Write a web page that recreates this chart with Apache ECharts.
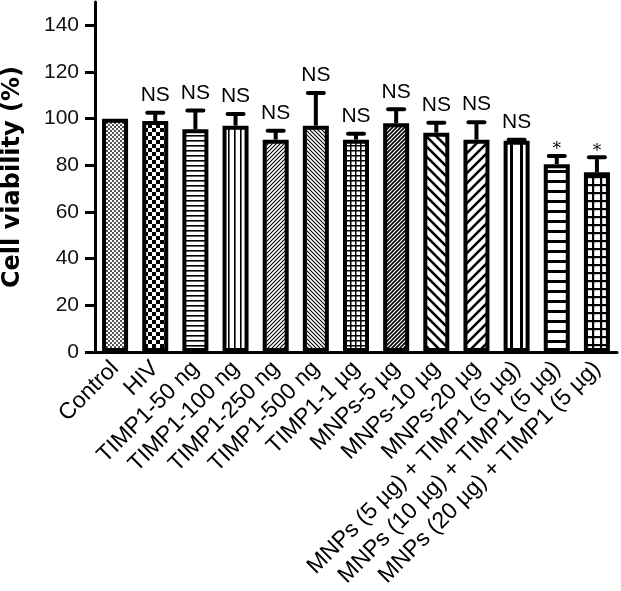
<!DOCTYPE html>
<html>
<head>
<meta charset="utf-8">
<script src="https://cdn.jsdelivr.net/npm/echarts@6/dist/echarts.min.js"></script>
<style>
  html, body { margin: 0; padding: 0; background: #fff; }
  #chart { width: 621px; height: 591px; }
</style>
</head>
<body>
<div id="chart"></div>
<script>
// groups on the x axis
var groups = ['Control', 'HIV', 'TIMP1-50 ng', 'TIMP1-100 ng', 'TIMP1-250 ng', 'TIMP1-500 ng',
  'TIMP1-1 µg', 'MNPs-5 µg', 'MNPs-10 µg', 'MNPs-20 µg',
  'MNPs (5 µg) + TIMP1 (5 µg)', 'MNPs (10 µg) + TIMP1 (5 µg)', 'MNPs (20 µg) + TIMP1 (5 µg)']
// mean cell viability (%)
var viability = [100, 99, 95.5, 97, 91, 97, 91, 98, 94, 91, 90.5, 80.5, 77]
// upper error (SD)
var errUp = [0, 3.5, 8, 5, 3.8, 14, 2.5, 6, 4.3, 7.5, 0.5, 3.5, 6.5]
// significance marks
var marks = ['', 'NS', 'NS', 'NS', 'NS', 'NS', 'NS', 'NS', 'NS', 'NS', 'NS', '*', '*']
var yTicks = [0, 20, 40, 60, 80, 100, 120, 140]

var FONT = '"Liberation Sans", Arial, Helvetica, sans-serif'

// hatch fills, one canvas tile per bar
function tile(size, draw) {
  var c = document.createElement('canvas')
  c.width = size; c.height = size
  var ctx = c.getContext('2d')
  ctx.fillStyle = '#fff'
  ctx.fillRect(0, 0, size, size)
  ctx.fillStyle = '#000'
  ctx.strokeStyle = '#000'
  draw(ctx, size)
  return { image: c, repeat: 'repeat' }
}
function diag(size, w, back) {
  return tile(size, function (ctx, s) {
    ctx.lineWidth = w
    ctx.beginPath()
    if (back) {
      ctx.moveTo(-1, -1); ctx.lineTo(s + 1, s + 1)
      ctx.moveTo(-1, s - 1); ctx.lineTo(1, s + 1)
      ctx.moveTo(s - 1, -1); ctx.lineTo(s + 1, 1)
    } else {
      ctx.moveTo(-1, s + 1); ctx.lineTo(s + 1, -1)
      ctx.moveTo(-1, 1); ctx.lineTo(1, -1)
      ctx.moveTo(s - 1, s + 1); ctx.lineTo(s + 1, s - 1)
    }
    ctx.stroke()
  })
}
var fills = [
  tile(4, function (ctx) { ctx.fillStyle = '#555'; ctx.fillRect(0, 0, 2, 2); ctx.fillRect(2, 2, 2, 2) }),
  tile(8, function (ctx) { ctx.fillRect(0, 0, 4, 4); ctx.fillRect(4, 4, 4, 4) }),
  tile(5, function (ctx) { ctx.fillRect(0, 0, 5, 1.6) }),
  tile(6, function (ctx) { ctx.fillRect(0, 0, 1.6, 6) }),
  diag(4, 1.1, false),
  diag(4, 1.1, true),
  tile(5, function (ctx) { ctx.fillRect(0, 0, 5, 1.5); ctx.fillRect(0, 0, 1.5, 5) }),
  diag(4, 1.6, false),
  diag(10, 2.6, true),
  diag(10, 2.6, false),
  tile(10, function (ctx) { ctx.fillRect(0, 0, 3, 10) }),
  tile(10, function (ctx) { ctx.fillRect(0, 0, 10, 3) }),
  tile(8, function (ctx) { ctx.fillRect(0, 0, 8, 2.2); ctx.fillRect(0, 0, 2.2, 8) })
]

var chart = echarts.init(document.getElementById('chart'))

chart.setOption({
  animation: false,
  textStyle: { fontFamily: FONT },
  grid: { left: 95, right: 4, top: 2, bottom: 239, containLabel: false, outerBoundsMode: 'none' },
  xAxis: {
    type: 'category',
    data: groups,
    axisLine: { lineStyle: { color: '#000', width: 3 } },
    axisTick: { alignWithLabel: true, length: 9, lineStyle: { color: '#000', width: 3 } },
    axisLabel: { interval: 0, rotate: 45, fontSize: 23, color: '#000', margin: 13, fontFamily: FONT }
  },
  yAxis: {
    type: 'value',
    min: 0,
    max: 150,
    name: 'Cell viability (%)',
    nameLocation: 'middle',
    nameGap: 70,
    nameRotate: 90,
    nameTextStyle: { fontSize: 24, fontWeight: 'bold', color: '#000', fontFamily: '"DejaVu Sans", sans-serif' },
    splitLine: { show: false },
    axisLine: { show: true, lineStyle: { color: '#000', width: 3 } },
    axisTick: { show: true, length: 10, customValues: yTicks, lineStyle: { color: '#000', width: 3 } },
    axisLabel: { customValues: yTicks, fontSize: 21, color: '#111', margin: 16, fontFamily: FONT }
  },
  series: [
    {
      type: 'bar',
      barWidth: 26,
      data: viability.map(function (v, i) {
        return { value: v, itemStyle: { color: fills[i] } }
      }),
      itemStyle: { borderColor: '#000', borderWidth: 4 }
    },
    {
      type: 'custom',
      z: 5,
      data: viability.map(function (v, i) { return [i, v, errUp[i]] }),
      renderItem: function (params, api) {
        var i = api.value(0), v = api.value(1), e = api.value(2)
        var base = api.coord([i, v])
        var top = api.coord([i, v + e])
        var mark = marks[params.dataIndex]
        var kids = []
        if (e > 0) {
          kids.push({
            type: 'line',
            shape: { x1: base[0], y1: base[1], x2: top[0], y2: top[1] },
            style: { stroke: '#000', lineWidth: 4 }
          })
          kids.push({
            type: 'line',
            shape: { x1: top[0] - 8, y1: top[1], x2: top[0] + 8, y2: top[1] },
            style: { stroke: '#000', lineWidth: 4, lineCap: 'round' }
          })
        }
        if (mark) {
          var star = mark === '*'
          kids.push({
            type: 'text',
            x: top[0],
            y: star ? top[1] - 6 : top[1] - 7,
            style: {
              text: mark,
              fill: '#000',
              font: (star ? '17px "DejaVu Serif", serif' : '21px ' + FONT),
              align: 'center',
              verticalAlign: star ? 'middle' : 'bottom'
            }
          })
        }
        return { type: 'group', children: kids }
      }
    }
  ]
})
</script>
</body>
</html>
